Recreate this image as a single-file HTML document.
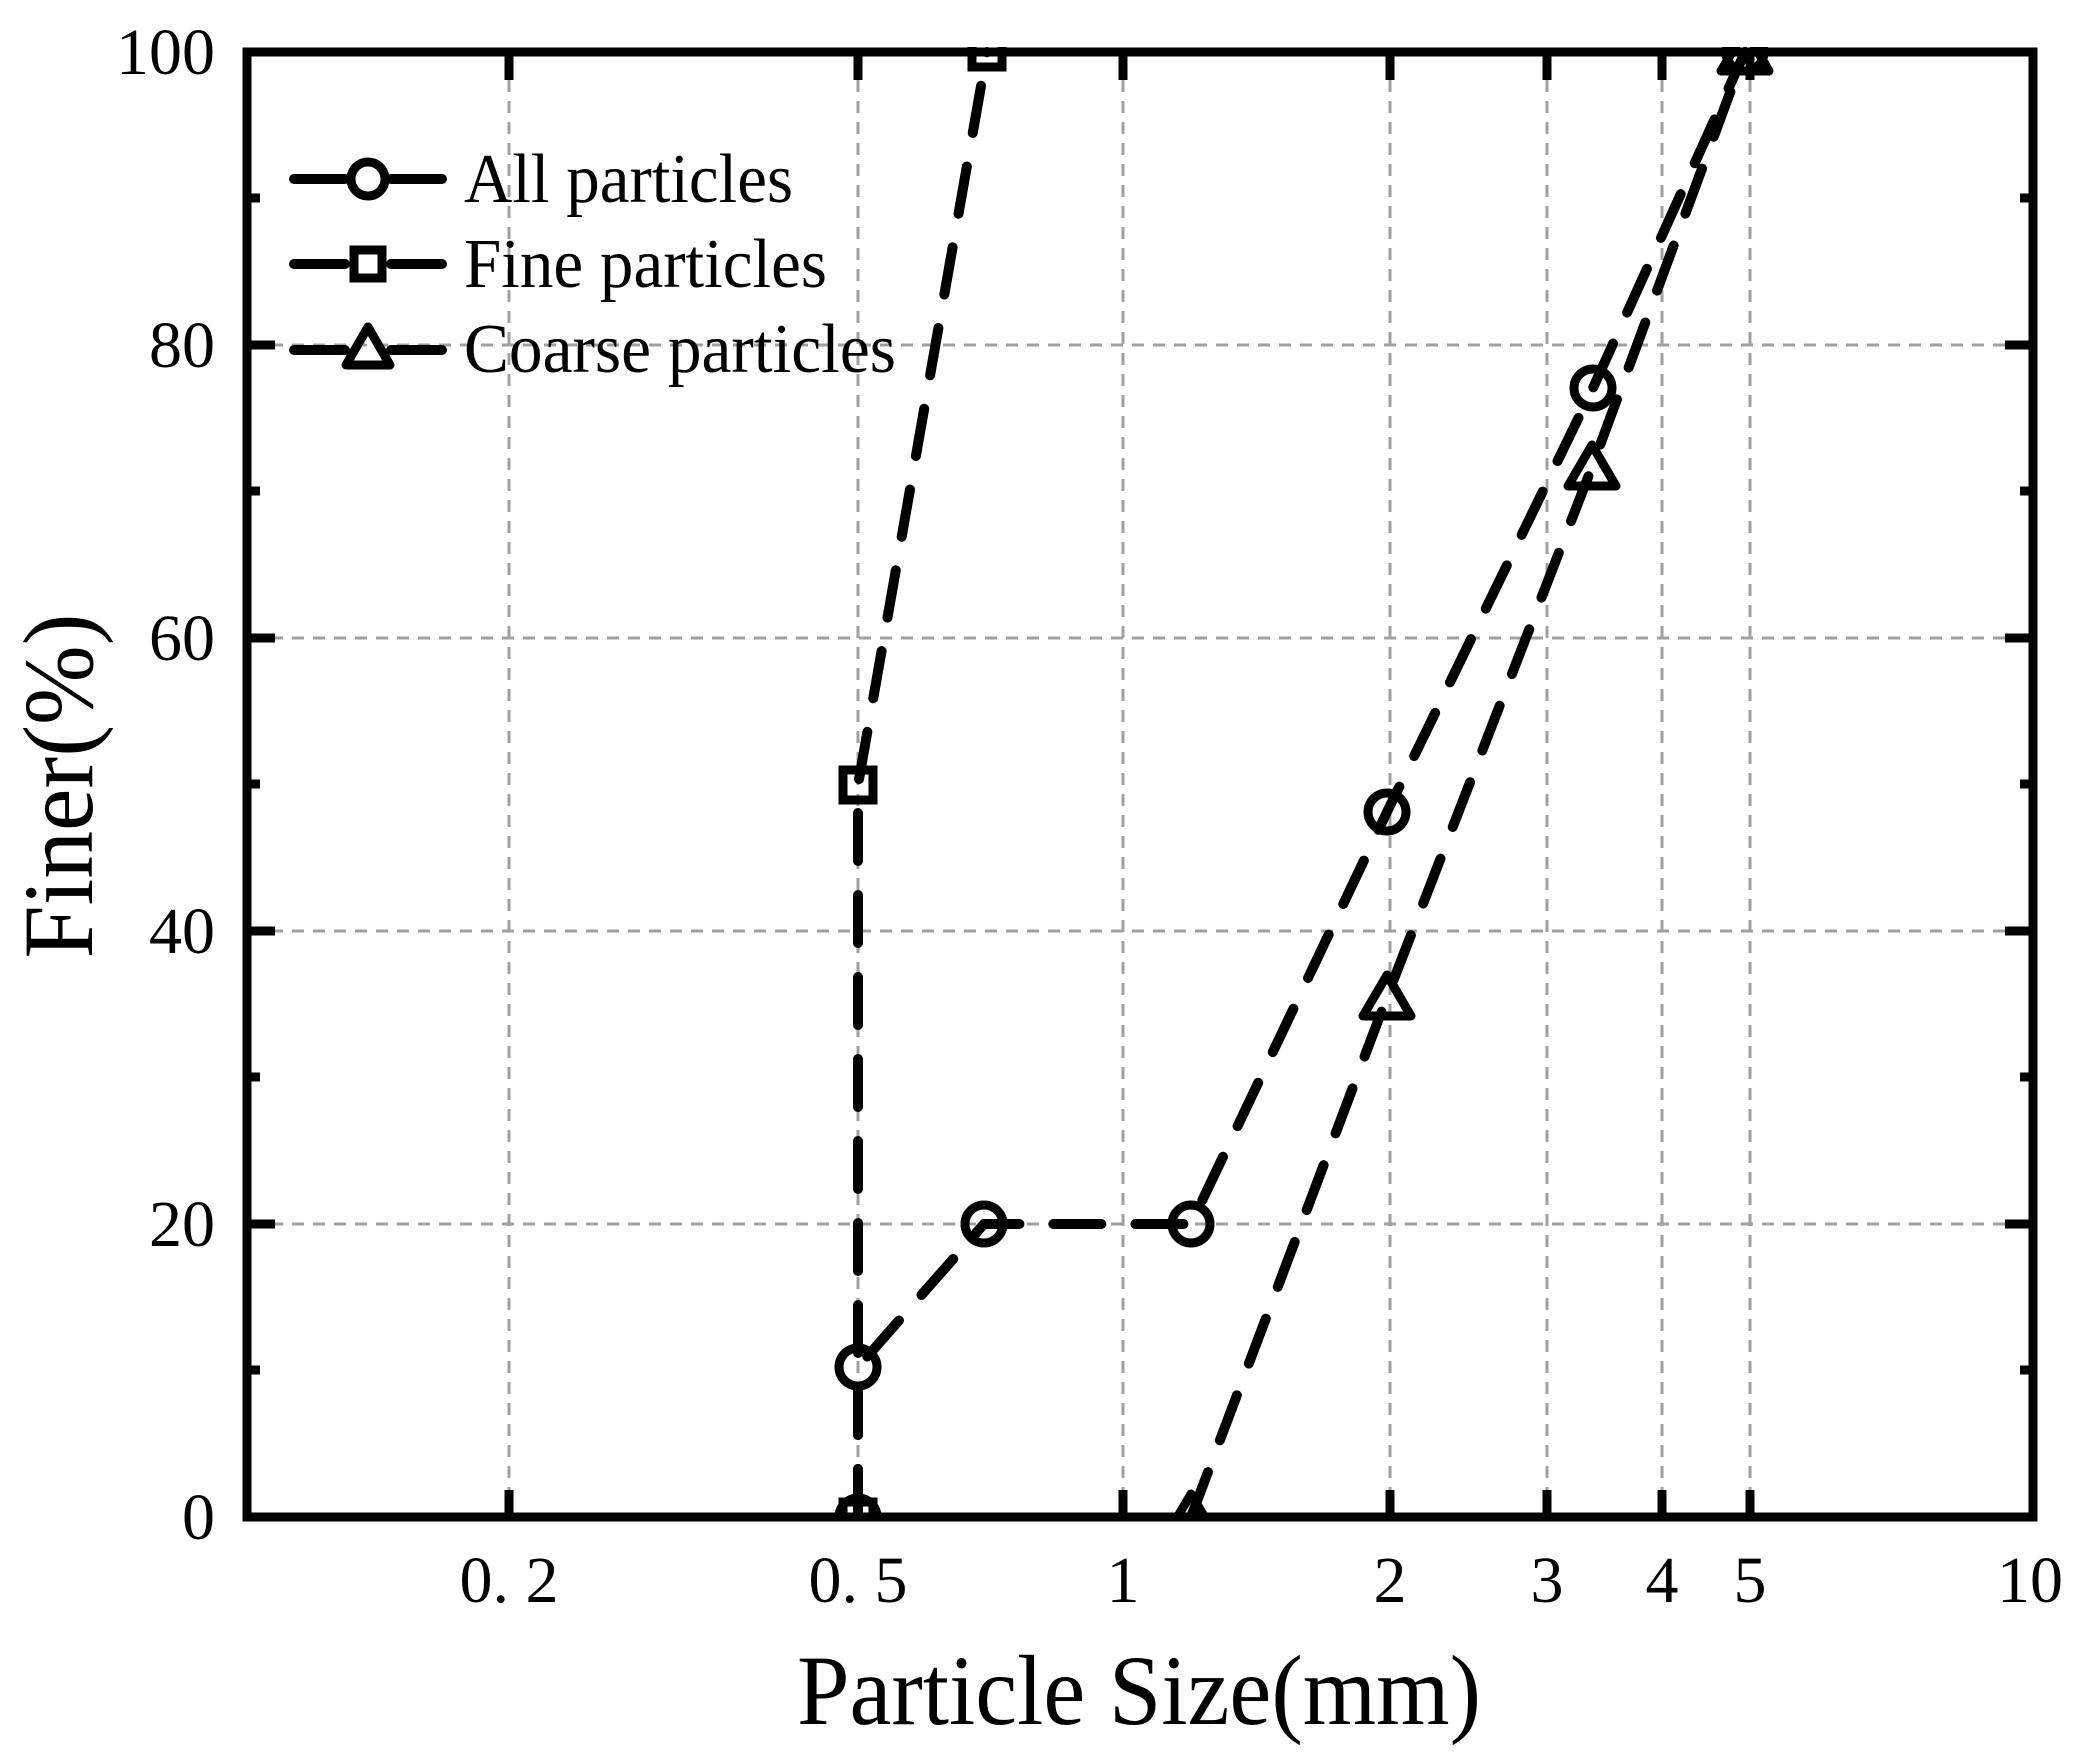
<!DOCTYPE html>
<html><head><meta charset="utf-8"><style>html,body{margin:0;padding:0;background:#fff}svg{display:block}</style></head>
<body>
<svg width="2083" height="1758" viewBox="0 0 2083 1758" xmlns="http://www.w3.org/2000/svg">
<rect width="2083" height="1758" fill="#fff"/>
<g stroke="#a0a0a0" stroke-width="3" stroke-dasharray="12,9" fill="none">
<line x1="250" y1="345" x2="2030" y2="345"/>
<line x1="250" y1="638" x2="2030" y2="638"/>
<line x1="250" y1="931" x2="2030" y2="931"/>
<line x1="250" y1="1224" x2="2030" y2="1224"/>
<line x1="509" y1="80" x2="509" y2="1512"/>
<line x1="858" y1="80" x2="858" y2="1512"/>
<line x1="1123" y1="80" x2="1123" y2="1512"/>
<line x1="1390" y1="80" x2="1390" y2="1512"/>
<line x1="1547" y1="80" x2="1547" y2="1512"/>
<line x1="1662" y1="80" x2="1662" y2="1512"/>
<line x1="1750" y1="80" x2="1750" y2="1512"/>
</g>
<g stroke="#000" stroke-width="9">
<line x1="509" y1="52" x2="509" y2="80"/><line x1="858" y1="52" x2="858" y2="80"/>
<line x1="1123" y1="52" x2="1123" y2="80"/><line x1="1390" y1="52" x2="1390" y2="80"/>
<line x1="1547" y1="52" x2="1547" y2="80"/><line x1="1662" y1="52" x2="1662" y2="80"/>
<line x1="1750" y1="52" x2="1750" y2="80"/>
<line x1="509" y1="1517" x2="509" y2="1490"/><line x1="858" y1="1517" x2="858" y2="1490"/>
<line x1="1123" y1="1517" x2="1123" y2="1490"/><line x1="1390" y1="1517" x2="1390" y2="1490"/>
<line x1="1547" y1="1517" x2="1547" y2="1490"/><line x1="1662" y1="1517" x2="1662" y2="1490"/>
<line x1="1750" y1="1517" x2="1750" y2="1490"/>
<line x1="247" y1="345" x2="275" y2="345"/><line x1="247" y1="638" x2="275" y2="638"/>
<line x1="247" y1="931" x2="275" y2="931"/><line x1="247" y1="1224" x2="275" y2="1224"/>
<line x1="247" y1="198" x2="260" y2="198"/><line x1="247" y1="491" x2="260" y2="491"/>
<line x1="247" y1="784" x2="260" y2="784"/><line x1="247" y1="1077" x2="260" y2="1077"/>
<line x1="247" y1="1370" x2="260" y2="1370"/>
<line x1="2033" y1="345" x2="2005" y2="345"/><line x1="2033" y1="638" x2="2005" y2="638"/>
<line x1="2033" y1="931" x2="2005" y2="931"/><line x1="2033" y1="1224" x2="2005" y2="1224"/>
<line x1="2033" y1="198" x2="2020" y2="198"/><line x1="2033" y1="491" x2="2020" y2="491"/>
<line x1="2033" y1="784" x2="2020" y2="784"/><line x1="2033" y1="1077" x2="2020" y2="1077"/>
<line x1="2033" y1="1370" x2="2020" y2="1370"/>
</g>
<g stroke="#000" stroke-width="10" fill="none" stroke-linecap="round" stroke-linejoin="round" stroke-dasharray="48,34">
<polyline points="858,1517 858,1367 984,1224 1191,1224 1387,812 1593,388 1745,52"/>
<polyline points="858,1517 858,785 987,52"/>
<polyline points="1191,1517 1387,997 1592,467 1745,52"/>
</g>
<g stroke="#000" stroke-width="9" fill="none">
<circle cx="858" cy="1517" r="19"/><circle cx="858" cy="1367" r="19"/>
<circle cx="984" cy="1224" r="19"/><circle cx="1191" cy="1224" r="19"/>
<circle cx="1387" cy="812" r="19"/><circle cx="1593" cy="388" r="19"/>
<circle cx="1745" cy="52" r="19"/>
<rect x="843" y="1502" width="30" height="30"/><rect x="843" y="770" width="30" height="30"/>
<rect x="972" y="37" width="30" height="30"/>
<path d="M1191,1494 L1214,1533 L1168,1533Z" stroke-linejoin="round"/>
<path d="M1387,975 L1411,1016 L1363,1016Z" stroke-linejoin="round"/>
<path d="M1592,445 L1616,486 L1568,486Z" stroke-linejoin="round"/>
<path d="M1745,30 L1769,71 L1721,71Z" stroke-linejoin="round"/>
</g>
<rect x="0" y="0" width="2083" height="47" fill="#fff"/>
<rect x="0" y="1521" width="2083" height="40" fill="#fff"/>
<rect x="247" y="52" width="1786" height="1465" fill="none" stroke="#000" stroke-width="9"/>
<g stroke="#000" stroke-width="10" stroke-linecap="round" fill="none">
<line x1="294" y1="179" x2="345" y2="179"/><line x1="391" y1="179" x2="442" y2="179"/>
<circle cx="368" cy="179" r="17" stroke-width="9"/>
<line x1="294" y1="264" x2="345" y2="264"/><line x1="391" y1="264" x2="442" y2="264"/>
<rect x="354" y="250" width="28" height="28" stroke-width="9"/>
<line x1="294" y1="350" x2="345" y2="350"/><line x1="391" y1="350" x2="442" y2="350"/>
<path d="M368,327 L390,365 L346,365Z" stroke-width="9" stroke-linejoin="round"/>
</g>
<g font-family="Liberation Serif, serif" fill="#000" font-size="70">
<text x="464" y="202" textLength="329" lengthAdjust="spacingAndGlyphs">All particles</text>
<text x="464" y="287" textLength="363" lengthAdjust="spacingAndGlyphs">Fine particles</text>
<text x="464" y="372" textLength="432" lengthAdjust="spacingAndGlyphs">Coarse particles</text>
</g>
<g font-family="Liberation Serif, serif" fill="#000" font-size="66" text-anchor="end">
<text x="215" y="74">100</text>
<text x="215" y="367">80</text>
<text x="215" y="660">60</text>
<text x="215" y="953">40</text>
<text x="215" y="1246">20</text>
<text x="215" y="1539">0</text>
</g>
<g font-family="Liberation Serif, serif" fill="#000" font-size="66" text-anchor="middle">
<text x="509" y="1602">0. 2</text>
<text x="858" y="1602">0. 5</text>
<text x="1123" y="1602">1</text>
<text x="1390" y="1602">2</text>
<text x="1547" y="1602">3</text>
<text x="1662" y="1602">4</text>
<text x="1750" y="1602">5</text>
<text x="2030" y="1602">10</text>
</g>
<text x="797" y="1724" font-family="Liberation Serif, serif" font-size="100" textLength="684" lengthAdjust="spacingAndGlyphs">Particle Size(mm)</text>
<text transform="translate(92,786) rotate(-90)" font-family="Liberation Serif, serif" font-size="100" text-anchor="middle" textLength="345" lengthAdjust="spacingAndGlyphs">Finer(%)</text>
</svg>
</body></html>
